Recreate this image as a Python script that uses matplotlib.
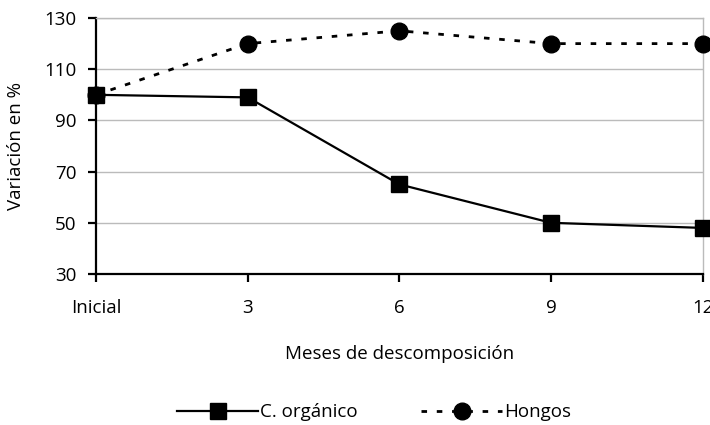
import matplotlib
matplotlib.use("Agg")
import matplotlib.pyplot as plt
from matplotlib.lines import Line2D

categories = ["Inicial", "3", "6", "9", "12"]
c_organico = [100, 99, 65, 50, 48]
hongos = [100, 120, 125, 120, 120]
y_ticks = [30, 50, 70, 90, 110, 130]

plt.rcParams['font.family'] = ['Open Sans', 'DejaVu Sans']
FS = 13.5

fig = plt.figure(figsize=(7.1, 4.25), dpi=100)
ax = fig.add_axes([0.1352, 0.3553, 0.990 - 0.1352, 0.9576 - 0.3553])

x = list(range(len(categories)))
ax.plot(x, hongos, color='black', linestyle=(0, (2, 3.5)), linewidth=2,
        marker='o', markersize=12, clip_on=False, zorder=3, label='Hongos')
ax.plot(x, c_organico, color='black', linestyle='-', linewidth=1.6,
        marker='s', markersize=11.5, clip_on=False, zorder=4, label='C. orgánico')

ax.set_xlim(0, len(categories) - 1)
ax.set_ylim(30, 130)
ax.set_yticks(y_ticks)
ax.set_xticks(x)
ax.set_xticklabels(categories)
ax.yaxis.grid(True, color='#bbbbbb', linewidth=1)
ax.set_axisbelow(True)

for s in ['left', 'bottom']:
    ax.spines[s].set_color('black')
    ax.spines[s].set_linewidth(1.6)
for s in ['right', 'top']:
    ax.spines[s].set_color('#bbbbbb')
    ax.spines[s].set_linewidth(1)

ax.tick_params(axis='both', direction='out', length=6, width=1.6, labelsize=FS, colors='black')
ax.tick_params(axis='x', pad=12)
ax.tick_params(axis='y', pad=8)

ax.set_xlabel("Meses de descomposición", fontsize=FS, labelpad=20)
ax.set_ylabel("Variación en %", fontsize=FS, labelpad=14)

h1 = Line2D([], [], color='black', linestyle='-', linewidth=1.6, marker='s', markersize=11.5)
h2 = Line2D([], [], color='black', linestyle=(0, (2, 3.5)), linewidth=2, marker='o', markersize=12)
fig.legend([h1, h2], ["C. orgánico", "Hongos"], loc='center', bbox_to_anchor=(0.527, 0.03),
           ncol=2, frameon=False, fontsize=FS, handlelength=4.3, handletextpad=0.1,
           columnspacing=3.4, borderpad=0)

fig.savefig("out.png", dpi=100)
